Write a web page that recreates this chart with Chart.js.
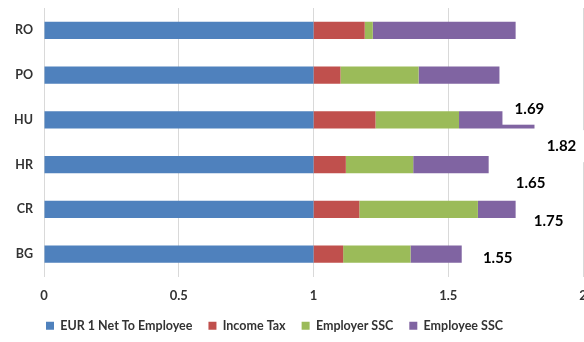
<!DOCTYPE html>
<html>
<head>
<meta charset="utf-8">
<script src="https://cdn.jsdelivr.net/npm/chart.js@4"></script>
<style>
    html, body { margin: 0; padding: 0; background: #fff; overflow: hidden; }
    #wrap { position: relative; width: 584px; height: 342px; }
</style>
</head>
<body>
<div id="wrap"><canvas id="costChart"></canvas></div>
<script>
const categories = ['RO', 'PO', 'HU', 'HR', 'CR', 'BG'];
const netToEmployee = [1, 1, 1, 1, 1, 1];
const incomeTax = [0.19, 0.10, 0.23, 0.12, 0.17, 0.11];
const employerSSC = [0.03, 0.29, 0.31, 0.25, 0.44, 0.25];
const employeeSSC = [0.53, 0.30, 0.28, 0.28, 0.14, 0.19];
const xTicks = [0, 0.5, 1, 1.5, 2];
const labelledCountries = ['PO', 'HU', 'HR', 'CR', 'BG'];

const FONT = 'Lato, "Open Sans", sans-serif';

// -------------------- Total labels (white boxed, stepped down the right side) --------------------
const labelShiftX = [30, 27, 42, 33, 36];

const totalLabels = {
    id: 'totalLabels',
    afterLayout(chart) {
        // legend sits a little left of centre
        chart.legend.right -= 34;
    },
    afterDatasetsDraw(chart) {
        const { ctx, scales: { x, y } } = chart;
        ctx.save();
        ctx.font = 'bold 15px ' + FONT;
        ctx.textAlign = 'center';
        ctx.textBaseline = 'middle';
        labelledCountries.forEach((name, k) => {
            const i = categories.indexOf(name);
            const total = netToEmployee[i] + incomeTax[i] + employerSSC[i] + employeeSSC[i];
            const cx = x.getPixelForValue(total) + labelShiftX[k];
            const cy = y.getPixelForValue(1.75 + k * 0.8375);
            ctx.fillStyle = '#fff';
            ctx.fillRect(cx - 27, cy - 16, 54, 32);
            ctx.fillStyle = '#000';
            ctx.fillText(total.toFixed(2), cx, cy);
        });
        ctx.restore();
    }
};

const series = [
    { label: 'EUR 1 Net To Employee', data: netToEmployee, color: '#4F81BD' },
    { label: 'Income Tax', data: incomeTax, color: '#C0504D' },
    { label: 'Employer SSC', data: employerSSC, color: '#9BBB59' },
    { label: 'Employee SSC', data: employeeSSC, color: '#8064A2' }
];

new Chart(document.getElementById('costChart'), {
    type: 'bar',
    data: {
        labels: categories,
        datasets: series.map(s => ({
            label: s.label,
            data: s.data,
            backgroundColor: s.color,
            borderWidth: 0,
            categoryPercentage: 1,
            barPercentage: 0.39
        }))
    },
    options: {
        indexAxis: 'y',
        responsive: true,
        maintainAspectRatio: false,
        animation: false,
        layout: { padding: { top: 8, right: 1, left: 0, bottom: 0 } },
        scales: {
            x: {
                stacked: true,
                min: 0,
                max: 2,
                afterBuildTicks: scale => { scale.ticks = xTicks.map(v => ({ value: v })); },
                afterFit: scale => { scale.paddingLeft = 0; scale.paddingRight = 0; scale.height = 27; },
                grid: { color: '#d9d9d9', drawTicks: false },
                border: { display: false },
                ticks: {
                    padding: 12,
                    color: '#333',
                    font: { family: FONT, size: 13, weight: 'bold' },
                    callback: v => String(v)
                }
            },
            y: {
                stacked: true,
                afterFit: scale => { scale.width = 44; scale.paddingTop = 0; scale.paddingBottom = 0; },
                grid: { display: false, drawTicks: false },
                border: { display: false },
                ticks: {
                    padding: 11,
                    color: '#333',
                    font: { family: FONT, size: 12.5, weight: 'bold' }
                }
            }
        },
        plugins: {
            legend: {
                position: 'bottom',
                labels: {
                    boxWidth: 8,
                    boxHeight: 8,
                    padding: 16,
                    color: '#333',
                    font: { family: FONT, size: 12.5, weight: 'bold' }
                }
            },
            tooltip: { enabled: false }
        }
    },
    plugins: [totalLabels]
});
</script>
</body>
</html>
